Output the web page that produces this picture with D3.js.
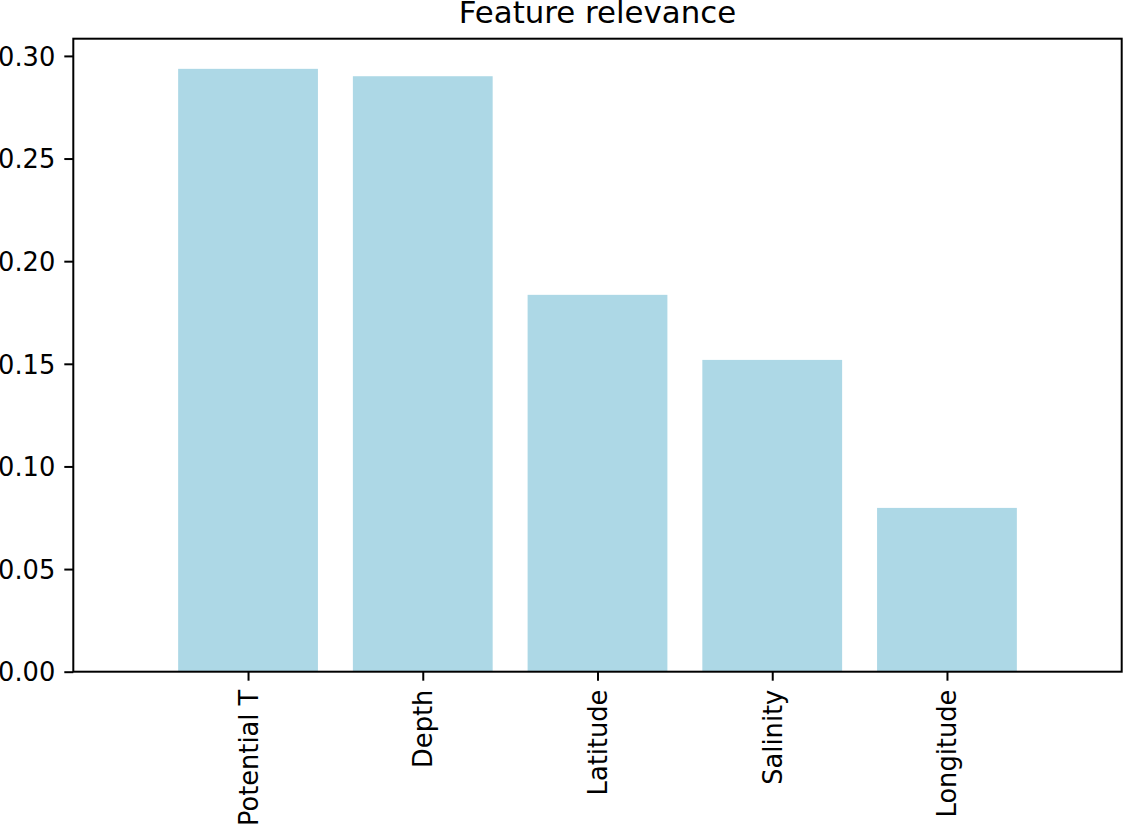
<!DOCTYPE html>
<html>
<head>
<meta charset="utf-8">
<script src="https://cdn.jsdelivr.net/npm/d3@7"></script>
<style>
  html, body { margin: 0; padding: 0; background: #fff; }
  svg { display: block; font-family: 'DejaVu Sans', sans-serif; }
</style>
</head>
<body>
<svg id="chart"></svg>
<script>
// data
const features = ['Potential T', 'Depth', 'Latitude', 'Salinity', 'Longitude'];
const relevance = [0.2937, 0.2901, 0.1836, 0.1519, 0.0798];
const yTicks = [0.0, 0.05, 0.1, 0.15, 0.2, 0.25, 0.3];

const width = 1123;
const height = 824;
const margin = { top: 38.7, right: 1.3, bottom: 152.3, left: 73.3 };
const innerWidth = width - margin.left - margin.right;
const innerHeight = height - margin.top - margin.bottom;

const pt = 2.57; // px per point
const tickLen = 3.5 * pt;
const tickPad = 3.5 * pt;
const font = "'DejaVu Sans', sans-serif";

const svg = d3.select('#chart').attr('width', width).attr('height', height);

const g = svg
  .append('g')
  .attr('transform', `translate(${margin.left},${margin.top})`);

const data = features.map((name, i) => ({ name, value: relevance[i], i }));

// matplotlib-like category axis: one step of margin on each side
const x = d3.scaleLinear().domain([-1, features.length]).range([0, innerWidth]);
const y = d3
  .scaleLinear()
  .domain([0, d3.max(relevance) * 1.05])
  .range([innerHeight, 0]);

const barWidth = x(0.8) - x(0);

g.selectAll('rect.bar')
  .data(data)
  .enter()
  .append('rect')
  .attr('class', 'bar')
  .attr('x', d => x(d.i) - barWidth / 2)
  .attr('y', d => y(d.value))
  .attr('width', barWidth)
  .attr('height', d => innerHeight - y(d.value))
  .attr('fill', '#add8e6');

// y axis
const yAxis = g
  .append('g')
  .call(
    d3.axisLeft(y)
      .tickValues(yTicks)
      .tickFormat(d3.format('.2f'))
      .tickSize(tickLen)
      .tickPadding(tickPad)
  )
  .attr('font-family', font)
  .attr('font-size', 10 * pt);
yAxis.select('.domain').remove();
yAxis.selectAll('line').attr('stroke', '#000').attr('stroke-width', 2);
yAxis
  .selectAll('text')
  .attr('fill', '#000')
  .attr('dy', '0.36em');

// x axis
const xAxis = g
  .append('g')
  .attr('transform', `translate(0,${innerHeight})`)
  .call(
    d3.axisBottom(x)
      .tickValues(d3.range(features.length))
      .tickFormat(i => features[i])
      .tickSize(tickLen)
      .tickPadding(0)
  )
  .attr('font-family', font)
  .attr('font-size', 10 * pt);
xAxis.select('.domain').remove();
xAxis.selectAll('line').attr('stroke', '#000').attr('stroke-width', 2);
xAxis
  .selectAll('text')
  .attr('fill', '#000')
  .attr('y', 0)
  .attr('dy', 0)
  .attr('text-anchor', 'end')
  .attr('dominant-baseline', 'central')
  .attr('transform', `translate(0,${tickLen + tickPad}) rotate(-90)`);

// frame
g.append('rect')
  .attr('width', innerWidth)
  .attr('height', innerHeight)
  .attr('fill', 'none')
  .attr('stroke', '#000')
  .attr('stroke-width', 2);

// title
svg
  .append('text')
  .attr('x', margin.left + innerWidth / 2)
  .attr('y', margin.top - 6 * pt)
  .attr('text-anchor', 'middle')
  .attr('font-family', font)
  .attr('font-size', 12 * pt)
  .attr('fill', '#000')
  .text('Feature relevance');
</script>
</body>
</html>
